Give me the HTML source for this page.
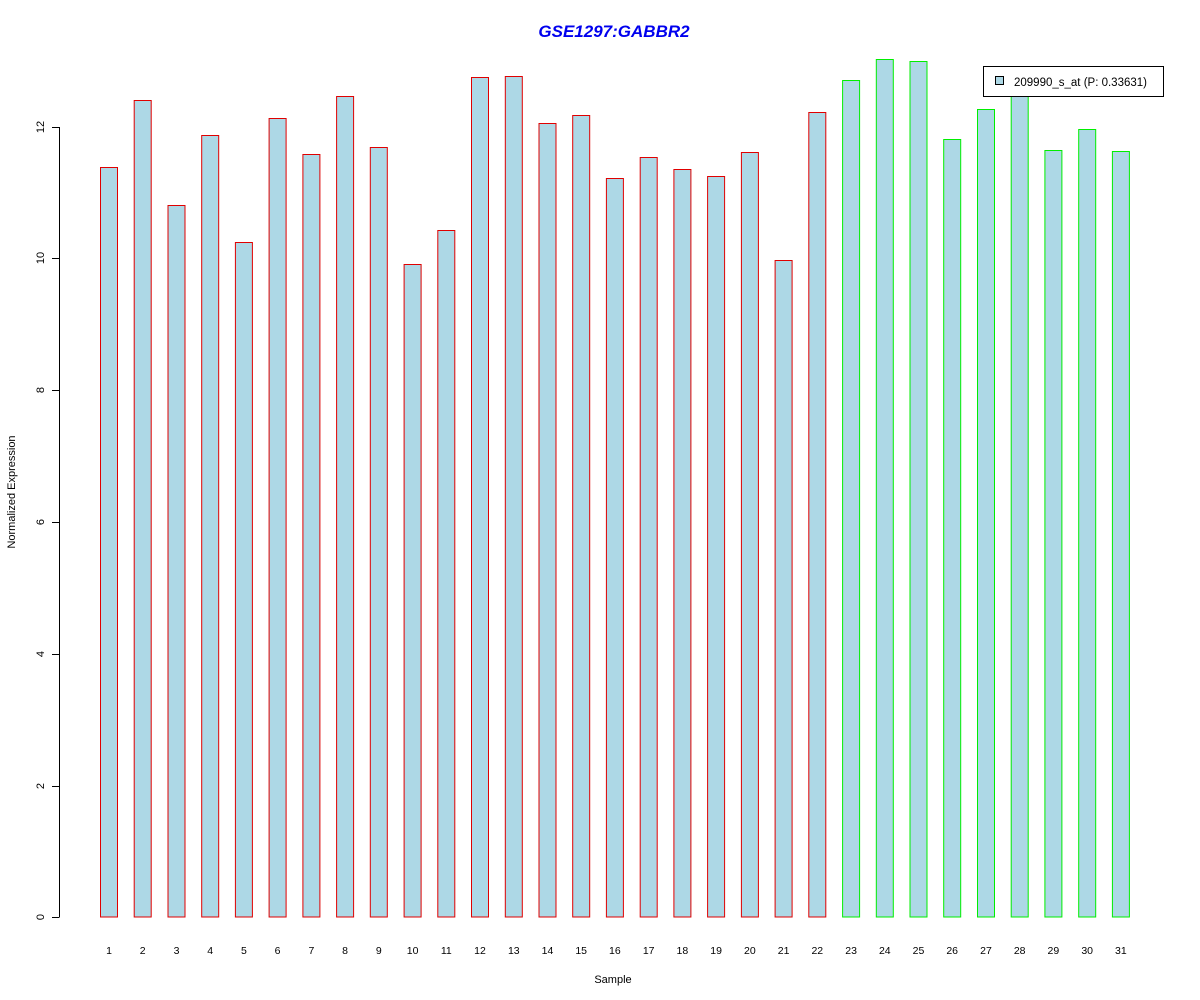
<!DOCTYPE html>
<html><head><meta charset="utf-8"><style>body{margin:0;background:#fff}svg{display:block}text{font-family:"Liberation Sans",Arial,sans-serif}</style></head>
<body>
<svg width="1200" height="1000" xmlns="http://www.w3.org/2000/svg">
<rect width="1200" height="1000" fill="#fff"/>
<text x="614" y="37" text-anchor="middle" font-size="17" font-weight="bold" font-style="italic" fill="#0000ee">GSE1297:GABBR2</text>
<g fill="#add8e6" stroke="#e00000" stroke-width="1">
<rect x="100.5" y="167.5" width="17" height="749.5"/>
<rect x="134.2" y="100.5" width="17" height="816.5"/>
<rect x="168" y="205.5" width="17" height="711.5"/>
<rect x="201.7" y="135.5" width="17" height="781.5"/>
<rect x="235.4" y="242.5" width="17" height="674.5"/>
<rect x="269.1" y="118.5" width="17" height="798.5"/>
<rect x="302.9" y="154.5" width="17" height="762.5"/>
<rect x="336.6" y="96.5" width="17" height="820.5"/>
<rect x="370.3" y="147.5" width="17" height="769.5"/>
<rect x="404.1" y="264.5" width="17" height="652.5"/>
<rect x="437.8" y="230.5" width="17" height="686.5"/>
<rect x="471.5" y="77.5" width="17" height="839.5"/>
<rect x="505.3" y="76.5" width="17" height="840.5"/>
<rect x="539" y="123.5" width="17" height="793.5"/>
<rect x="572.7" y="115.5" width="17" height="801.5"/>
<rect x="606.4" y="178.5" width="17" height="738.5"/>
<rect x="640.2" y="157.5" width="17" height="759.5"/>
<rect x="673.9" y="169.5" width="17" height="747.5"/>
<rect x="707.6" y="176.5" width="17" height="740.5"/>
<rect x="741.4" y="152.5" width="17" height="764.5"/>
<rect x="775.1" y="260.5" width="17" height="656.5"/>
<rect x="808.8" y="112.5" width="17" height="804.5"/>
</g>
<g fill="#add8e6" stroke="#00ee00" stroke-width="1">
<rect x="842.6" y="80.5" width="17" height="836.5"/>
<rect x="876.3" y="59.5" width="17" height="857.5"/>
<rect x="910" y="61.5" width="17" height="855.5"/>
<rect x="943.7" y="139.5" width="17" height="777.5"/>
<rect x="977.5" y="109.5" width="17" height="807.5"/>
<rect x="1011.2" y="90.5" width="17" height="826.5"/>
<rect x="1044.9" y="150.5" width="17" height="766.5"/>
<rect x="1078.7" y="129.5" width="17" height="787.5"/>
<rect x="1112.4" y="151.5" width="17" height="765.5"/>
</g>
<g stroke="#000" stroke-width="1">
<line x1="59.5" y1="127" x2="59.5" y2="917"/>
<line x1="52" y1="917.5" x2="59.5" y2="917.5"/>
<line x1="52" y1="786.5" x2="59.5" y2="786.5"/>
<line x1="52" y1="654.5" x2="59.5" y2="654.5"/>
<line x1="52" y1="522.5" x2="59.5" y2="522.5"/>
<line x1="52" y1="390.5" x2="59.5" y2="390.5"/>
<line x1="52" y1="258.5" x2="59.5" y2="258.5"/>
<line x1="52" y1="127.5" x2="59.5" y2="127.5"/>
</g>
<g font-size="11" fill="#000" text-anchor="middle">
<text transform="translate(44,917) rotate(-90)">0</text>
<text transform="translate(44,786) rotate(-90)">2</text>
<text transform="translate(44,654) rotate(-90)">4</text>
<text transform="translate(44,522) rotate(-90)">6</text>
<text transform="translate(44,390) rotate(-90)">8</text>
<text transform="translate(44,258) rotate(-90)">10</text>
<text transform="translate(44,127) rotate(-90)">12</text>
<text transform="translate(15,492) rotate(-90)">Normalized Expression</text>
<text x="613" y="983">Sample</text>
</g>
<g font-size="10.5" fill="#000" text-anchor="middle">
<text x="109" y="954">1</text><text x="142.7" y="954">2</text><text x="176.5" y="954">3</text><text x="210.2" y="954">4</text><text x="243.9" y="954">5</text><text x="277.6" y="954">6</text><text x="311.4" y="954">7</text><text x="345.1" y="954">8</text><text x="378.8" y="954">9</text><text x="412.6" y="954">10</text><text x="446.3" y="954">11</text><text x="480" y="954">12</text><text x="513.8" y="954">13</text><text x="547.5" y="954">14</text><text x="581.2" y="954">15</text><text x="614.9" y="954">16</text><text x="648.7" y="954">17</text><text x="682.4" y="954">18</text><text x="716.1" y="954">19</text><text x="749.9" y="954">20</text><text x="783.6" y="954">21</text><text x="817.3" y="954">22</text><text x="851.1" y="954">23</text><text x="884.8" y="954">24</text><text x="918.5" y="954">25</text><text x="952.2" y="954">26</text><text x="986" y="954">27</text><text x="1019.7" y="954">28</text><text x="1053.4" y="954">29</text><text x="1087.2" y="954">30</text><text x="1120.9" y="954">31</text>
</g>
<rect x="983.5" y="66.5" width="180" height="30" fill="#fff" stroke="#000"/>
<rect x="995.5" y="76.5" width="8" height="8" fill="#add8e6" stroke="#000"/>
<text x="1014" y="86" font-size="11.5" fill="#000">209990_s_at (P: 0.33631)</text>
</svg>
</body></html>
